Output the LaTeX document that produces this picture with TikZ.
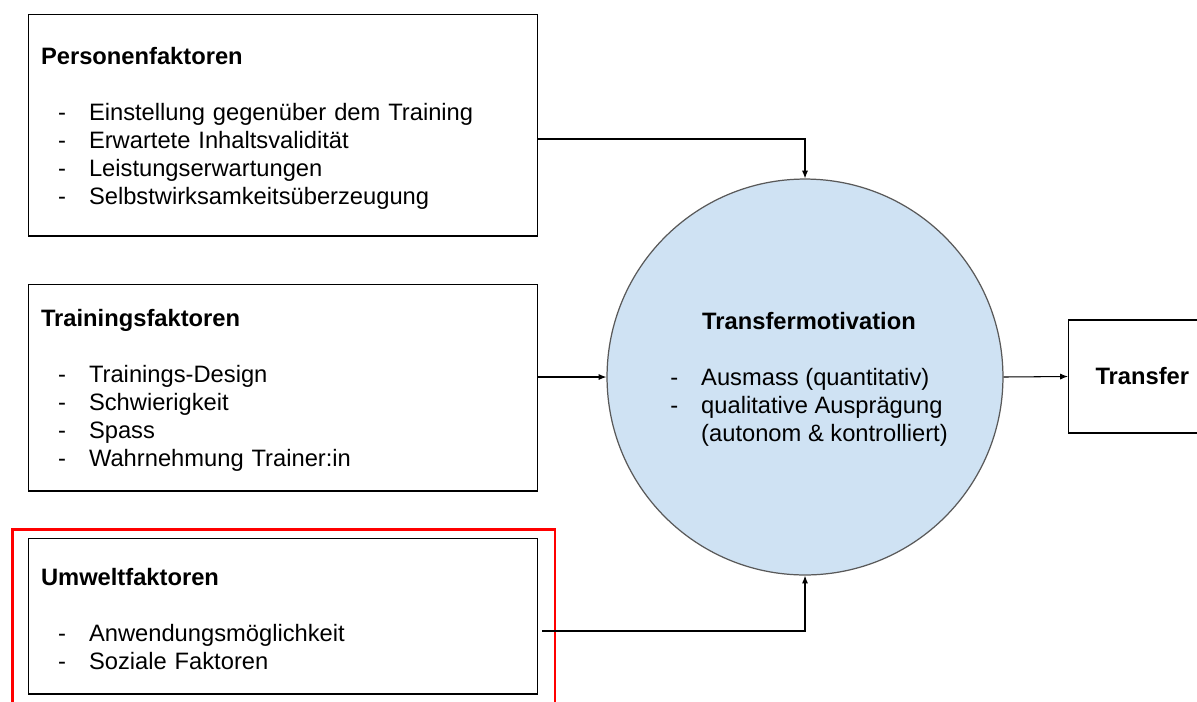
\documentclass[tikz,border=0pt]{standalone}
\usepackage{fontspec}
\setmainfont{Liberation Sans}
\usetikzlibrary{arrows.meta}
\definecolor{tmblue}{RGB}{207,226,243}
\definecolor{tmrand}{RGB}{89,89,89}
\newcommand{\dsh}{\hspace*{0.34cm}\makebox[0.62cm][l]{-}}
\newcommand{\titel}[1]{\rule{0pt}{13.4pt}\textbf{#1}}

\begin{document}
\begin{tikzpicture}[x=0.02cm,y=-0.02cm,
		font=\fontsize{13.5}{15.9}\selectfont,
		faktor/.style={draw=black,line width=0.6pt,minimum height=#1,text width=9.68cm,inner xsep=0.26cm,align=left},
		tmkreis/.style={circle,draw=tmrand,line width=0.7pt,fill=tmblue,minimum size=7.92cm,inner sep=0pt,align=center},
		pfeil/.style={-{Latex[length=4.5pt,width=3.5pt]},line width=0.6pt},
		markiert/.style={draw=red,line width=1.7pt}]
			\useasboundingbox (0,0) rectangle (1197,701);
			
			\node[faktor=4.44cm] (pf) at (283,125) {\titel{Personenfaktoren}\\[15.9pt]
				\dsh Einstellung gegenüber dem Training\\
				\dsh Erwartete Inhaltsvalidität\\
				\dsh Leistungserwartungen\\
				\dsh Selbstwirksamkeitsüberzeugung};
			\node[faktor=4.14cm] (tf) at (283,387.5) {\titel{Trainingsfaktoren}\\[15.9pt]
				\dsh Trainings-Design\\
				\dsh Schwierigkeit\\
				\dsh Spass\\
				\dsh Wahrnehmung Trainer:in};
			\node[faktor=3.12cm] (uf) at (283,616) {\titel{Umweltfaktoren}\\[15.9pt]
				\dsh Anwendungsmöglichkeit\\
				\dsh Soziale Faktoren};
			
			% hervorgehoben
			\draw[markiert] (12.5,529.5) rectangle (555,730);
			
			\node[tmkreis] (tm) at (805,377) {\hspace*{0.16cm}\rule{0pt}{14.4pt}\textbf{Transfermotivation}\\[15.9pt]
				\begin{tabular}[t]{@{\hspace{0.16cm}}l@{}}
					\makebox[0.62cm][l]{-}Ausmass (quantitativ)\\
					\makebox[0.62cm][l]{-}qualitative Ausprägung\\
					\hspace*{0.62cm}(autonom \& kontrolliert)
				\end{tabular}};
			
			\node[draw=black,line width=0.6pt,minimum height=2.26cm,text width=2.52cm,inner xsep=0.54cm,align=left,anchor=west] (tb) at (1068,376.5) {\textbf{Transfer}};
			
			\draw[pfeil] ([yshift=-0.28cm]pf.east) -| (tm.north);
			\draw[pfeil] (tf.east |- tm.west) -- (tm.west);
			\draw[pfeil] ([xshift=0.08cm,yshift=-0.3cm]uf.east) -| (tm.south);
			\draw[pfeil] (tm.east) -- (tb.west);
			
		\end{tikzpicture}
\end{document}
